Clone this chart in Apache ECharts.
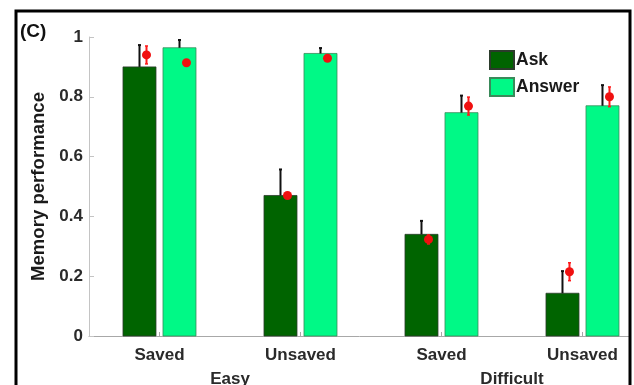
<!DOCTYPE html>
<html>
<head>
<meta charset="utf-8">
<script src="https://cdn.jsdelivr.net/npm/echarts@6/dist/echarts.min.js"></script>
<style>
  html, body { margin: 0; padding: 0; background: #fff; }
  #chart { width: 634px; height: 385px; }
</style>
</head>
<body>
<div id="chart"></div>
<script>
// Conditions and group labels
const conditions = ['Saved', 'Unsaved', 'Saved', 'Unsaved'];
const groups = ['Easy', 'Difficult'];

// Observed memory performance (bars) and upper error
const askMean = [0.90, 0.47, 0.34, 0.143];
const askErr = [0.073, 0.087, 0.045, 0.074];
const answerMean = [0.964, 0.945, 0.747, 0.770];
const answerErr = [0.026, 0.018, 0.057, 0.069];

// Model predictions (red points) with their error
const modelAsk = [0.94, 0.47, 0.323, 0.215];
const modelAskErr = [0.03, 0.0, 0.015, 0.03];
const modelAnswer = [0.914, 0.929, 0.769, 0.80];
const modelAnswerErr = [0.0, 0.0, 0.03, 0.033];

const yTicks = [0, 0.2, 0.4, 0.6, 0.8, 1];

// Condition positions on the x scale; the view is cut on the right
const xPos = conditions.map((_, i) => i);
const groupPos = [0.5, 2.5];
const X_MIN = -0.5;
const X_MAX = 3.337;

const ASK_COLOR = '#006400';
const ANSWER_COLOR = '#00f986';
const BAR_W = 33;
const BAR_GAP = 7;
const SIDE_OFFSET = (BAR_W + BAR_GAP) / 2;   // bar centre distance from condition centre
const MODEL_SHIFT = 7;                        // model point offset right of bar centre
const FONT = '"Liberation Sans", Arial, sans-serif';

// Grouped bar drawn through the axis scales
function barSeries(name, means, side, fill, border) {
  return {
    name,
    type: 'custom',
    z: 2,
    data: means.map((m, i) => [xPos[i], m]),
    renderItem: (params, api) => {
      const top = api.coord([api.value(0), api.value(1)]);
      const base = api.coord([api.value(0), 0]);
      const cx = top[0] + side * SIDE_OFFSET;
      return {
        type: 'rect',
        shape: { x: cx - BAR_W / 2, y: top[1], width: BAR_W, height: base[1] - top[1] },
        style: { fill, stroke: border, lineWidth: 0.8 }
      };
    },
    itemStyle: { color: fill, borderColor: border, borderWidth: 0.8 }
  };
}

// Upward-only error line with a small cap, drawn at a bar's centre
function barErrorSeries(means, errs, side) {
  return {
    type: 'custom',
    z: 5,
    silent: true,
    data: means.map((m, i) => [xPos[i], m, m + errs[i]]),
    renderItem: (params, api) => {
      const base = api.coord([api.value(0), api.value(1)]);
      const top = api.coord([api.value(0), api.value(2)]);
      const x = base[0] + side * SIDE_OFFSET;
      return {
        type: 'group',
        children: [
          { type: 'line', shape: { x1: x, y1: base[1], x2: x, y2: top[1] },
            style: { stroke: '#111', lineWidth: 2 } },
          { type: 'line', shape: { x1: x - 1.5, y1: top[1], x2: x + 1.5, y2: top[1] },
            style: { stroke: '#111', lineWidth: 2 } }
        ]
      };
    }
  };
}

// Red model point with symmetric error
function modelSeries(vals, errs, side) {
  return {
    type: 'custom',
    z: 6,
    silent: true,
    data: vals.map((v, i) => [xPos[i], v, v - errs[i], v + errs[i]]),
    renderItem: (params, api) => {
      const c = api.coord([api.value(0), api.value(1)]);
      const lo = api.coord([api.value(0), api.value(2)]);
      const hi = api.coord([api.value(0), api.value(3)]);
      const x = c[0] + side * SIDE_OFFSET + MODEL_SHIFT;
      const children = [];
      if (lo[1] - hi[1] > 0.5) {
        children.push({ type: 'line', shape: { x1: x, y1: lo[1], x2: x, y2: hi[1] },
          style: { stroke: '#ff1a1a', lineWidth: 2 } });
        children.push({ type: 'line', shape: { x1: x - 1.5, y1: hi[1], x2: x + 1.5, y2: hi[1] },
          style: { stroke: '#ff1a1a', lineWidth: 1.5 } });
        children.push({ type: 'line', shape: { x1: x - 1.5, y1: lo[1], x2: x + 1.5, y2: lo[1] },
          style: { stroke: '#ff1a1a', lineWidth: 1.5 } });
      }
      children.push({ type: 'circle', shape: { cx: x, cy: c[1], r: 4.5 },
        style: { fill: '#f01010' } });
      return { type: 'group', children };
    }
  };
}

const labelStyle = { fontFamily: FONT, fontWeight: 'bold', fontSize: 17, color: '#2a2a2a' };

const chart = echarts.init(document.getElementById('chart'), null, { renderer: 'canvas' });

chart.setOption({
  animation: false,
  backgroundColor: '#ffffff',
  textStyle: { fontFamily: FONT },
  grid: { left: 89, top: 37, right: 4, bottom: 49, containLabel: false, outerBoundsMode: 'none' },
  legend: {
    data: ['Ask', 'Answer'],
    orient: 'vertical',
    left: 489,
    top: 50,
    padding: 0,
    itemWidth: 24,
    itemHeight: 18,
    itemGap: 7,
    icon: 'rect',
    textStyle: { fontFamily: FONT, fontWeight: 'bold', fontSize: 17.5, color: '#1a1a1a', padding: [0, 0, 0, -3] }
  },
  xAxis: [
    {
      type: 'value',
      min: X_MIN,
      max: X_MAX,
      splitLine: { show: false },
      axisLine: { show: true, onZero: false, lineStyle: { color: '#a8a8a8', width: 1 } },
      axisTick: { show: true, inside: true, length: 4, customValues: xPos, lineStyle: { color: '#a8a8a8' } },
      axisLabel: Object.assign({
        margin: 11,
        customValues: xPos,
        formatter: v => conditions[Math.round(v)]
      }, labelStyle)
    },
    {
      type: 'value',
      min: X_MIN,
      max: X_MAX,
      position: 'bottom',
      offset: 31,
      splitLine: { show: false },
      axisLine: { show: false, onZero: false },
      axisTick: { show: false },
      axisLabel: Object.assign({
        margin: 4,
        customValues: groupPos,
        formatter: v => groups[groupPos.indexOf(v)]
      }, labelStyle)
    }
  ],
  yAxis: {
    type: 'value',
    min: 0,
    max: 1,
    interval: 0.2,
    name: 'Memory performance',
    nameLocation: 'middle',
    nameGap: 40,
    nameTextStyle: { fontFamily: FONT, fontWeight: 'bold', fontSize: 18.6, color: '#1a1a1a' },
    axisLine: { show: true, onZero: false, lineStyle: { color: '#c4c4c4', width: 1 } },
    axisTick: { show: true, inside: true, length: 5, lineStyle: { color: '#c4c4c4' } },
    splitLine: { show: false },
    axisLabel: {
      fontFamily: FONT, fontWeight: 'bold', fontSize: 17, color: '#2a2a2a', margin: 6,
      formatter: v => {
        const t = yTicks.find(k => Math.abs(k - v) < 1e-9);
        return t === undefined ? '' : String(t);
      }
    }
  },
  series: [
    barSeries('Ask', askMean, -1, ASK_COLOR, '#2b3b2b'),
    barSeries('Answer', answerMean, 1, ANSWER_COLOR, '#3a8a5a'),
    barErrorSeries(askMean, askErr, -1),
    barErrorSeries(answerMean, answerErr, 1),
    modelSeries(modelAsk, modelAskErr, -1),
    modelSeries(modelAnswer, modelAnswerErr, 1)
  ],
  graphic: [
    {
      type: 'rect',
      z: 100,
      silent: true,
      shape: { x: 16, y: 11, width: 614, height: 390 },
      style: { fill: 'none', stroke: '#000', lineWidth: 3 }
    },
    {
      type: 'text',
      z: 100,
      left: 20,
      top: 22,
      style: { text: '(C)', font: 'bold 19px ' + FONT, fill: '#111' }
    }
  ]
});
</script>
</body>
</html>
